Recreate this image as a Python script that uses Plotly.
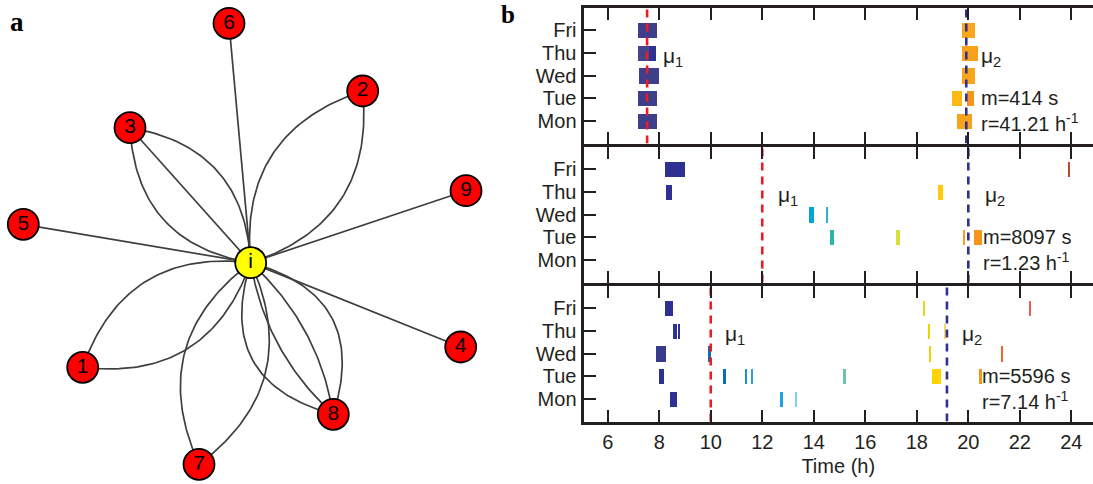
import numpy as np
import plotly.graph_objects as go

# ---------------- panel a: contact network around individual i ----------------
node_names = ["i", "1", "2", "3", "4", "5", "6", "7", "8", "9"]
# layout coordinates of the nodes (x to the right, y downward)
node_x = [250.7, 82.7, 362.7, 130.0, 460.7, 23.3, 229.0, 199.0, 333.3, 466.0]
node_y = [262.7, 367.3, 91.0, 127.7, 347.0, 224.3, 23.3, 464.3, 414.3, 190.7]
# number of distinct contacts between i and each neighbour
contact_counts = {"1": 2, "2": 2, "3": 3, "4": 1, "5": 1, "6": 1, "7": 2, "8": 4, "9": 1}

# ---------------- panel b: daily contact timelines of three pairs ----------------
day_names = ["Mon", "Tue", "Wed", "Thu", "Fri"]
hour_ticks = [6, 8, 10, 12, 14, 16, 18, 20, 22, 24]

# pair 1
p1_day = ["Fri", "Thu", "Thu", "Wed", "Tue", "Mon",
          "Fri", "Thu", "Wed", "Tue", "Tue", "Mon"]
p1_start = [7.15, 7.16, 7.57, 7.19, 7.15, 7.16,
            19.74, 19.74, 19.74, 19.36, 19.94, 19.53]
p1_end = [7.88, 7.57, 7.84, 7.96, 7.88, 7.90,
          20.25, 20.37, 20.23, 19.72, 20.19, 20.11]
p1_color = ["#3F3E8B", "#45448C", "#2F3190", "#3F3E8B", "#3F3E8B", "#3F3E8B",
            "#FAA61A", "#F9A11B", "#FAA61A", "#FDB913", "#F7941D", "#F9A31B"]
p1_mu = [7.53, 19.92]
p1_m, p1_r = 414, 41.21

# pair 2
p2_day = ["Fri", "Fri", "Thu", "Thu", "Wed", "Wed",
          "Tue", "Tue", "Tue", "Tue"]
p2_start = [8.21, 23.84, 8.26, 18.80, 13.78, 14.49,
            14.60, 17.18, 19.81, 20.20]
p2_end = [8.99, 23.93, 8.48, 18.99, 14.00, 14.55,
          14.75, 17.32, 19.86, 20.52]
p2_color = ["#2E3192", "#B94A2C", "#2E3192", "#FFCB05", "#00A6D6", "#2CB5C8",
            "#2BB5A8", "#D4DF3A", "#F9A11B", "#F7941D"]
p2_mu = [12.0, 20.0]
p2_m, p2_r = 8097, 1.23

# pair 3
p3_day = ["Fri", "Fri", "Fri",
          "Thu", "Thu", "Thu", "Thu",
          "Wed", "Wed", "Wed", "Wed",
          "Tue", "Tue", "Tue", "Tue", "Tue", "Tue", "Tue",
          "Mon", "Mon", "Mon"]
p3_start = [8.21, 18.24, 22.34,
            8.52, 8.69, 18.42, 19.07,
            7.87, 9.89, 18.46, 21.25,
            7.97, 10.45, 11.33, 11.57, 15.13, 18.58, 20.39,
            8.38, 12.68, 13.28]
p3_end = [8.53, 18.31, 22.40,
          8.66, 8.80, 18.48, 19.12,
          8.25, 9.99, 18.52, 21.31,
          8.16, 10.58, 11.40, 11.63, 15.23, 18.91, 20.53,
          8.68, 12.80, 13.34]
p3_color = ["#2E3192", "#F2D21B", "#F0585A",
            "#2E3192", "#2E3192", "#F5D000", "#F8D66A",
            "#383A8C", "#0A6EB4", "#F5D000", "#F26522",
            "#2E3192", "#0A6EB4", "#1E90D6", "#2A9EE0", "#6DC5A5", "#FFD200", "#F7941D",
            "#2E3192", "#1FA3E0", "#7FCFF2"]
p3_mu = [10.0, 19.17]
p3_m, p3_r = 5596, 7.14

FONT = "Liberation Sans, Arial, Helvetica, sans-serif"
INK = "#231F20"

fig = go.Figure()

# ---- network edges (quadratic Bezier curves for repeated contacts) ----
pos = {n: (x, y) for n, x, y in zip(node_names, node_x, node_y)}
ex, ey = [], []
cx0, cy0 = pos["i"]
tt = np.linspace(0, 1, 60)
for name, k in contact_counts.items():
    x1, y1 = pos[name]
    dx, dy = x1 - cx0, y1 - cy0
    L = np.hypot(dx, dy)
    px, py = -dy / L, dx / L
    spread = 0.4 if k < 4 else 0.52
    bends = [0.0] if k == 1 else np.linspace(-spread, spread, k)
    for b in bends:
        mx = (cx0 + x1) / 2 + px * b * L
        my = (cy0 + y1) / 2 + py * b * L
        bx = (1 - tt) ** 2 * cx0 + 2 * (1 - tt) * tt * mx + tt ** 2 * x1
        by = (1 - tt) ** 2 * cy0 + 2 * (1 - tt) * tt * my + tt ** 2 * y1
        ex += list(bx) + [None]
        ey += list(by) + [None]

fig.add_trace(go.Scatter(
    x=ex, y=ey, mode="lines", xaxis="x4", yaxis="y4",
    line=dict(color="#3F3F3F", width=1.7), hoverinfo="skip", showlegend=False))

fig.add_trace(go.Scatter(
    x=node_x, y=node_y, mode="markers+text", xaxis="x4", yaxis="y4",
    text=node_names, textposition="middle center",
    textfont=dict(family=FONT, size=21, color="black"),
    marker=dict(size=31, color=["#FFFF00"] + ["#FF0000"] * 9,
                line=dict(color="black", width=1.8)),
    hoverinfo="skip", showlegend=False))

# ---- timeline panels ----
day_index = {d: i + 1 for i, d in enumerate(day_names)}
panels = [
    dict(ax="", day=p1_day, start=p1_start, end=p1_end, color=p1_color,
         mu=p1_mu, m=p1_m, r=p1_r, lab1=8.05, lab2=20.43, stat=20.43),
    dict(ax="2", day=p2_day, start=p2_start, end=p2_end, color=p2_color,
         mu=p2_mu, m=p2_m, r=p2_r, lab1=12.53, lab2=20.57, stat=20.5),
    dict(ax="3", day=p3_day, start=p3_start, end=p3_end, color=p3_color,
         mu=p3_mu, m=p3_m, r=p3_r, lab1=10.46, lab2=19.66, stat=20.45),
]

annotations = []
for p in panels:
    xa, ya = "x" + p["ax"], "y" + p["ax"]
    fig.add_trace(go.Bar(
        orientation="h",
        y=[day_index[d] for d in p["day"]],
        base=p["start"],
        x=[e - s for s, e in zip(p["start"], p["end"])],
        width=0.68,
        marker=dict(color=p["color"], line=dict(width=0)),
        xaxis=xa, yaxis=ya, hoverinfo="skip", showlegend=False))
    for mu, col in zip(p["mu"], ["#ED1C24", "#2E3192"]):
        fig.add_trace(go.Scatter(
            x=[mu, mu], y=[0, 6], mode="lines", xaxis=xa, yaxis=ya,
            line=dict(color=col, width=2.6, dash="8px,6px"),
            hoverinfo="skip", showlegend=False))
    for i, lx in enumerate([p["lab1"], p["lab2"]]):
        annotations.append(dict(
            x=lx, y=4, xref=xa, yref=ya, xanchor="left", yanchor="middle",
            text=f"μ<sub>{i + 1}</sub>", showarrow=False, yshift=-4,
            font=dict(family=FONT, size=21, color=INK)))
    annotations.append(dict(
        x=p["stat"], y=2, xref=xa, yref=ya, xanchor="left", yanchor="middle",
        text=f"m={p['m']} s", showarrow=False,
        font=dict(family=FONT, size=20, color=INK)))
    annotations.append(dict(
        x=p["stat"], y=1, xref=xa, yref=ya, xanchor="left", yanchor="middle",
        text=f"r={p['r']:.2f} h<sup>-1</sup>", showarrow=False, yshift=-2,
        font=dict(family=FONT, size=20, color=INK)))

annotations += [
    dict(x=8 / 1093, y=1 - 22 / 484, xref="paper", yref="paper", xanchor="left",
         yanchor="middle", text="<b>a</b>", showarrow=False,
         font=dict(family="Liberation Serif, Times New Roman, serif", size=27, color="black")),
    dict(x=499 / 1093, y=1 - 14 / 484, xref="paper", yref="paper", xanchor="left",
         yanchor="middle", text="<b>b</b>", showarrow=False,
         font=dict(family="Liberation Serif, Times New Roman, serif", size=25, color="black")),
]

# spines are drawn just outside each plotting area, so the areas are inset by
# half a spine width to let neighbouring panels share one separator line
LW = 3
H = 484


def ydom(top_px, bottom_px):
    return [1 - (bottom_px - LW / 2) / H, 1 - (top_px + LW / 2) / H]


X0 = (582 + LW / 2) / 1093
dom1 = ydom(6, 145)
dom2 = ydom(145, 284)
dom3 = ydom(284, 423)


def xaxis_cfg(anchor, labels):
    return dict(domain=[X0, 1.0], anchor=anchor, range=[5.06, 24.84],
                tickvals=hour_ticks, ticks="inside", ticklen=12, tickwidth=2.4,
                tickcolor=INK, showline=True, linewidth=LW, linecolor=INK,
                mirror="allticks", showgrid=False, zeroline=False,
                showticklabels=labels,
                tickfont=dict(family=FONT, size=20, color=INK))


def yaxis_cfg(anchor, dom):
    # left spine with day labels; the right side only carries tick marks
    return dict(domain=dom, anchor=anchor, range=[0, 6],
                tickvals=[1, 2, 3, 4, 5], ticktext=day_names,
                ticks="inside", ticklen=12, tickwidth=2.4, tickcolor=INK,
                showline=True, linewidth=LW, linecolor=INK, mirror=False,
                showgrid=False, zeroline=False,
                tickfont=dict(family=FONT, size=20, color=INK))


def right_ticks(anchor, over):
    return dict(overlaying=over, anchor=anchor, side="right", range=[0, 6],
                tickvals=[1, 2, 3, 4, 5], ticks="inside", ticklen=12,
                tickwidth=2.4, tickcolor=INK, showline=False,
                showticklabels=False, showgrid=False, zeroline=False)


bottom_x = xaxis_cfg("y3", True)
bottom_x["title"] = dict(text="Time (h)", font=dict(family=FONT, size=20, color=INK),
                         standoff=8)

fig.update_layout(
    width=1093, height=484,
    margin=dict(l=0, r=0, t=0, b=0),
    paper_bgcolor="white", plot_bgcolor="white",
    barmode="overlay", bargap=0,
    showlegend=False,
    xaxis=xaxis_cfg("y", False),
    yaxis=yaxis_cfg("x", dom1),
    xaxis2=xaxis_cfg("y2", False),
    yaxis2=yaxis_cfg("x2", dom2),
    xaxis3=bottom_x,
    yaxis3=yaxis_cfg("x3", dom3),
    yaxis5=right_ticks("x", "y"),
    yaxis6=right_ticks("x2", "y2"),
    yaxis7=right_ticks("x3", "y3"),
    xaxis4=dict(domain=[0, 500 / 1093], anchor="y4", range=[0, 500],
                visible=False, fixedrange=True),
    yaxis4=dict(domain=[0, 1], anchor="x4", range=[484, 0],
                visible=False, fixedrange=True),
    annotations=annotations,
)

fig.write_html("out.html")
